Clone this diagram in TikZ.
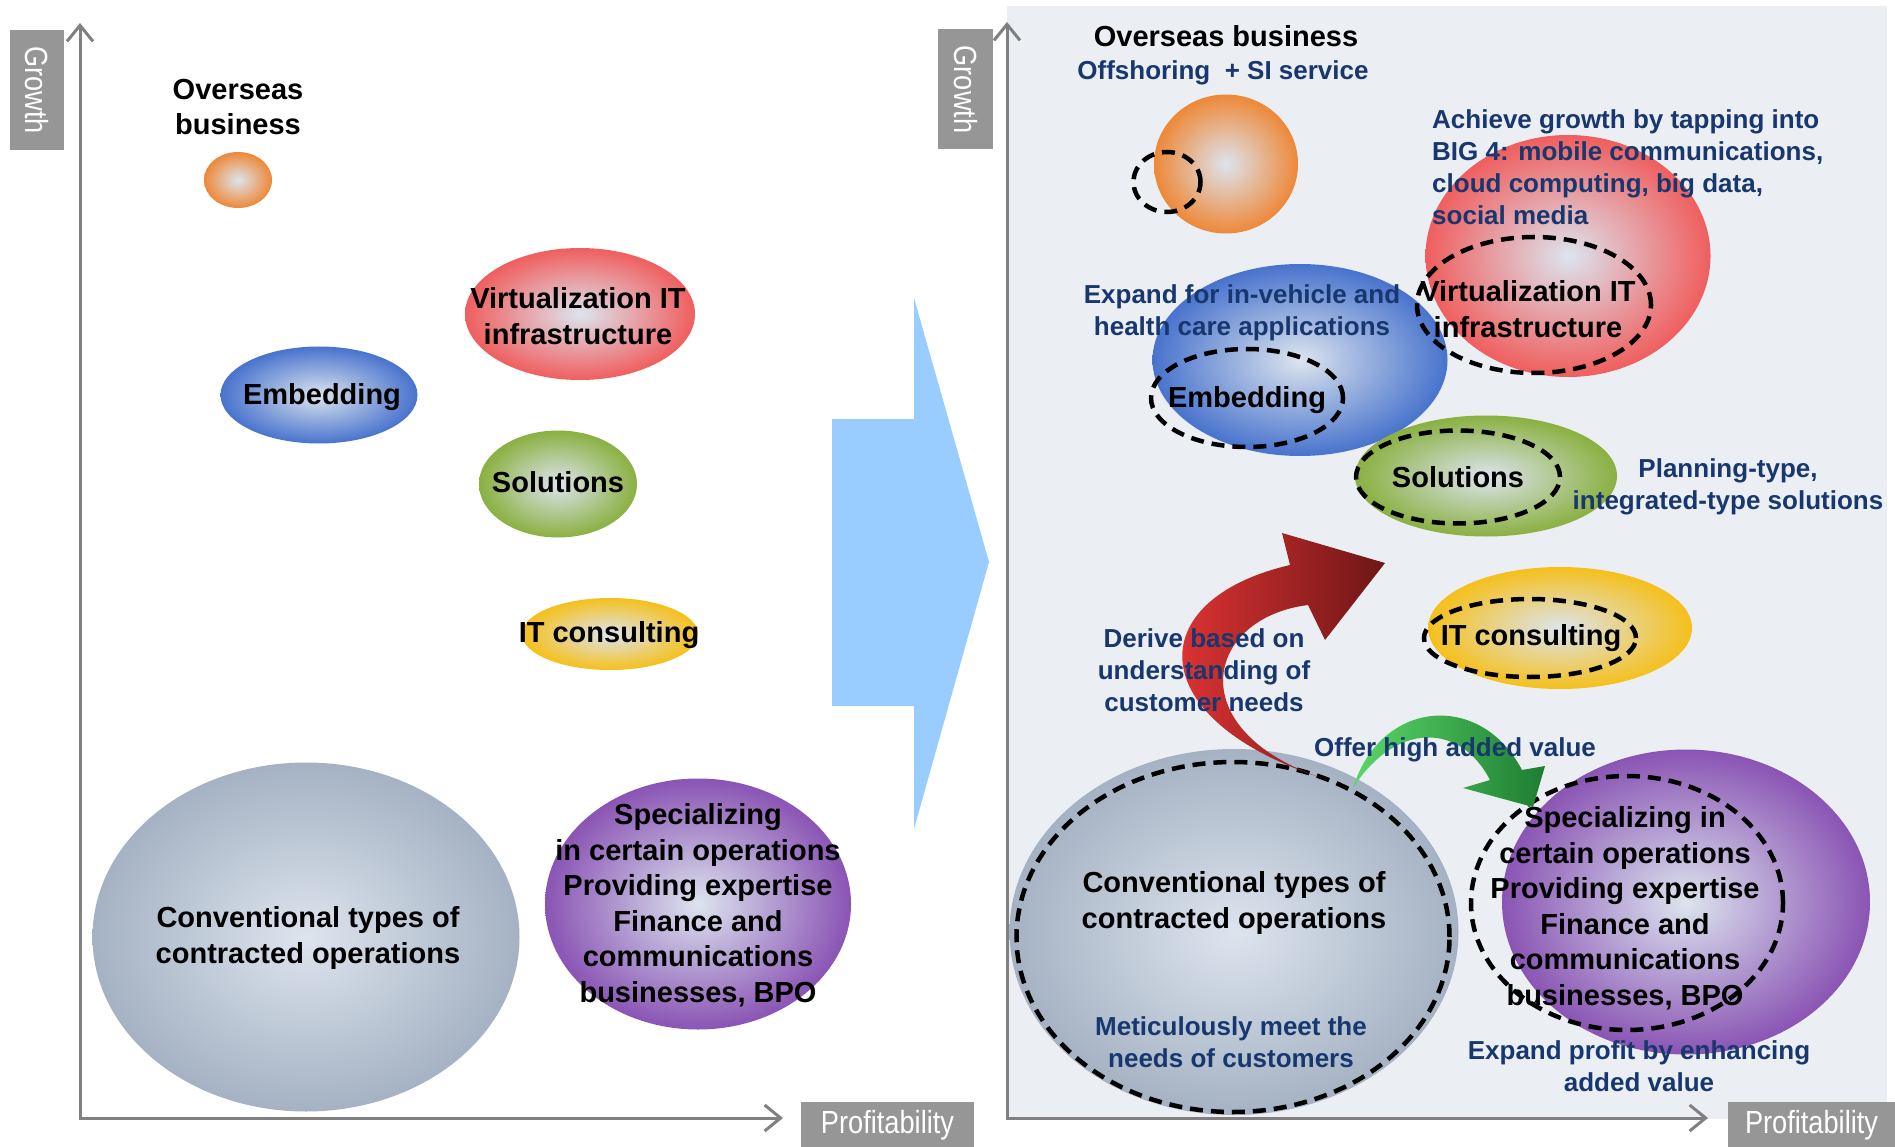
\documentclass[tikz,border=0pt]{standalone}
\usepackage{fontspec}
\setmainfont{Liberation Sans}
\newfontfamily\axisfont[FakeStretch=0.85]{Liberation Sans}
\usetikzlibrary{shapes.geometric,arrows.meta}
\definecolor{centreC}{RGB}{220,228,238}
\definecolor{orangeC}{RGB}{238,136,56}
\definecolor{redC}{RGB}{240,94,94}
\definecolor{blueC}{RGB}{72,115,205}
\definecolor{greenC}{RGB}{138,176,64}
\definecolor{yellowC}{RGB}{245,192,28}
\definecolor{grayC}{RGB}{165,178,195}
\definecolor{purpleC}{RGB}{138,84,180}
\definecolor{bgRight}{RGB}{235,239,243}
\definecolor{arrowBlue}{RGB}{153,204,255}
\definecolor{axisGray}{RGB}{128,128,128}
\definecolor{labGray}{RGB}{150,150,150}
\definecolor{navyT}{RGB}{23,55,110}
\definecolor{redBright}{RGB}{240,56,56}
\definecolor{redDark}{RGB}{110,22,22}
\definecolor{greenLight}{RGB}{90,215,105}
\definecolor{greenDark}{RGB}{30,125,50}
\tikzset{
  ball/.style={ellipse, inner sep=0pt, outer sep=0pt, inner color=centreC, outer color=#1},
  ring/.style={ellipse, draw=black, line width=4.5pt, dash pattern=on 13pt off 8pt, inner sep=0pt, outer sep=0pt},
  lab/.style={font=\bfseries\fontsize{29}{35.5}\selectfont, align=center, text=black, inner sep=0pt},
  note/.style={font=\bfseries\fontsize{26}{32}\selectfont, align=center, text=navyT, inner sep=0pt},
  axlab/.style={fill=labGray, text=white, font=\axisfont\fontsize{32}{36}\selectfont, inner sep=0pt},
  axisline/.style={draw=axisGray, line width=3pt, {Straight Barb[length=16pt,width=26pt,line width=3pt]}-{Straight Barb[length=16pt,width=26pt,line width=3pt]}}
}
\begin{document}
\begin{tikzpicture}[x=1pt,y=-1pt]
\useasboundingbox (0,0) rectangle (1895,1147);
\fill[white] (0,0) rectangle (1895,1147);
% right background
\fill[bgRight] (1007,6) rectangle (1887,1119);
% big transition arrow
\fill[arrowBlue] (832,419) -- (914,419) -- (914,298) -- (989,562) -- (914,829) -- (914,706) -- (832,706) -- cycle;

% axes
\coordinate (lTop) at (80,23);
\coordinate (lOrig) at (80,1118);
\coordinate (lEnd) at (783,1118);
\coordinate (rTop) at (1007,22);
\coordinate (rOrig) at (1007,1118);
\coordinate (rEnd) at (1708,1118);
\draw[axisline] (lTop) -- (lOrig) -- (lEnd);
\draw[axisline] (rTop) -- (rOrig) -- (rEnd);
\node[axlab, rotate=-90, minimum width=120pt, minimum height=54pt] (gL) at (37,90) {Growth};
\node[axlab, rotate=-90, minimum width=120pt, minimum height=55pt] (gR) at (965.5,89.5) {Growth};
\node[axlab, minimum width=173pt, minimum height=46pt] (pL) at (887.5,1125) {Profitability};
\node[axlab, minimum width=167pt, minimum height=46pt] (pR) at (1811.5,1125) {Profitability};

% left bubbles
\node[ball=orangeC, minimum width=68pt, minimum height=56pt] (lOrange) at (238,180) {};
\node[ball=redC, minimum width=230pt, minimum height=132pt] (lRed) at (580,314) {};
\node[ball=blueC, minimum width=197pt, minimum height=97pt] (lBlue) at (319,395) {};
\node[ball=greenC, minimum width=158pt, minimum height=107pt] (lGreen) at (558,484) {};
\node[ball=yellowC, minimum width=176pt, minimum height=72pt] (lYellow) at (610,634) {};
\node[ball=grayC, minimum width=427pt, minimum height=349pt] (lGray) at (306,937) {};
\node[ball=purpleC, minimum width=306pt, minimum height=251pt] (lPurple) at (698,904) {};

% right bubbles
\node[ball=orangeC, minimum width=144pt, minimum height=139pt] (rOrange) at (1226,164) {};
\node[ball=redC, minimum width=285pt, minimum height=242pt] (rRed) at (1568,256) {};
\node[ball=blueC, minimum width=295pt, minimum height=192pt] (rBlue) at (1300,360) {};
\node[ball=greenC, minimum width=262pt, minimum height=121pt] (rGreen) at (1486,476) {};
\node[ball=yellowC, minimum width=264pt, minimum height=122pt] (rYellow) at (1560,628) {};
\node[ball=grayC, minimum width=449pt, minimum height=366pt] (rGray) at (1234,932) {};
\node[ball=purpleC, minimum width=368pt, minimum height=305pt] (rPurple) at (1686,902) {};

% dashed rings
\node[ring, minimum width=67pt, minimum height=60pt] (dOrange) at (1167,182) {};
\node[ring, minimum width=234pt, minimum height=136pt] (dVirt) at (1534,305) {};
\node[ring, minimum width=192pt, minimum height=98pt] (dEmb) at (1247,398) {};
\node[ring, minimum width=204pt, minimum height=93pt] (dSol) at (1458,477) {};
\node[ring, minimum width=212pt, minimum height=78pt] (dIT) at (1530,638) {};
\node[ring, minimum width=433pt, minimum height=350pt] (dConv) at (1233,937) {};
\node[ring, minimum width=312pt, minimum height=254pt] (dSpec) at (1627,903) {};

% curved arrows
\shade[left color=redBright, right color=redDark]
  (1322,778) .. controls (1143,720) and (1140,600) .. (1290,565)
  -- (1282,533) -- (1385,563) -- (1325,640) -- (1308,605)
  .. controls (1205,618) and (1180,730) .. (1322,778) -- cycle;
\shade[left color=greenLight, right color=greenDark]
  (1353,788) .. controls (1380,700) and (1480,690) .. (1522,770)
  -- (1545,766) -- (1533,807) -- (1463,788) -- (1490,780)
  .. controls (1460,722) and (1395,722) .. (1353,788) -- cycle;

% left texts
\node[lab] (tOv) at (238,107) {Overseas\\business};
\node[lab] (tVirt) at (578,316) {Virtualization IT\\infrastructure};
\node[lab] (tEmb) at (322,397) {Embedding};
\node[lab] (tSol) at (558,482) {Solutions};
\node[lab] (tIT) at (609,635) {IT consulting};
\node[lab] (tConv) at (308,938) {Conventional types of\\contracted operations};
\node[lab] (tSpec) at (698,905) {Specializing\\in certain operations\\Providing expertise\\Finance and\\communications\\businesses, BPO};

% right texts
\node[lab] (rOv) at (1226,36) {Overseas business};
\node[note] (rOff) at (1223,73) {Offshoring \ + SI service};
\node[note, align=left, anchor=west] (rAch) at (1432,167) {Achieve growth by tapping into\\BIG 4: mobile communications,\\cloud computing, big data,\\social media};
\node[lab] (rVirt) at (1528,309) {Virtualization IT\\infrastructure};
\node[note] (rExp) at (1242,313) {Expand for in-vehicle and\\health care applications};
\node[lab] (rEmb) at (1247,400) {Embedding};
\node[lab] (rSol) at (1458,477) {Solutions};
\node[note] (rPlan) at (1728,487) {Planning-type,\\integrated-type solutions};
\node[lab] (rIT) at (1531,638) {IT consulting};
\node[note] (rDer) at (1204,670) {Derive based on\\understanding of\\customer needs};
\node[note] (rOffer) at (1455,750) {Offer high added value};
\node[lab] (rConv) at (1234,903) {Conventional types of\\contracted operations};
\node[note] (rMet) at (1231,1042) {Meticulously meet the\\needs of customers};
\node[lab] (rSpec) at (1625,908) {Specializing in\\certain operations\\Providing expertise\\Finance and\\communications\\businesses, BPO};
\node[note] (rExpP) at (1639,1066) {Expand profit by enhancing\\added value};
\end{tikzpicture}
\end{document}
